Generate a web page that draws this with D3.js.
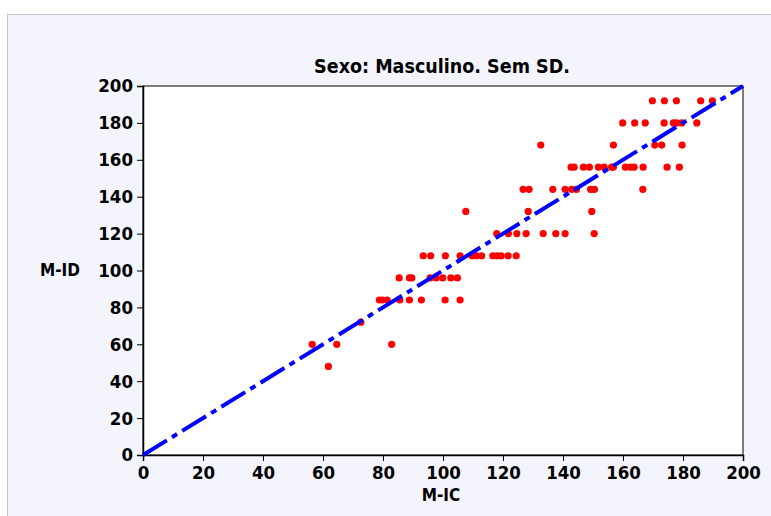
<!DOCTYPE html>
<html>
<head>
<meta charset="utf-8">
<script src="https://cdn.jsdelivr.net/npm/d3@7"></script>
<style>
  body { margin: 0; background: #fff; }
  text { font-family: "DejaVu Sans Condensed", "DejaVu Sans", sans-serif; font-stretch: condensed; font-weight: bold; fill: #000; }
</style>
</head>
<body>
<div id="chart"></div>
<script>
// M-ID levels (y) and the M-IC values (x) read for each level
const mIDLevels = [48, 60, 72, 84, 96, 108, 120, 132, 144, 156, 168, 180, 192];
const mICByLevel = [
  [61.8],
  [56.4, 64.6, 82.9],
  [72.6],
  [78.8, 79.8, 81.4, 85.6, 88.8, 92.8, 100.7, 105.7],
  [85.4, 88.8, 89.6, 95.7, 97.7, 99.9, 102.6, 104.8],
  [93.4, 95.9, 100.8, 105.7, 109.7, 111.2, 112.9, 116.6, 118.1, 119.4, 121.7, 124.4],
  [117.9, 121.8, 124.6, 127.7, 133.4, 137.6, 140.7, 150.4],
  [107.6, 128.4, 149.6],
  [126.7, 128.7, 136.6, 140.7, 142.9, 144.5, 149.2, 150.5, 166.6],
  [142.7, 143.7, 146.8, 148.8, 151.8, 153.7, 156.2, 156.8, 160.8, 162.5, 163.7, 166.7, 174.7, 178.8],
  [132.6, 156.8, 170.6, 172.9, 179.7],
  [159.9, 163.9, 167.4, 173.7, 176.8, 177.9, 179.6, 184.6],
  [169.8, 173.8, 177.8, 185.9, 189.8]
];
const tickValues = [0, 20, 40, 60, 80, 100, 120, 140, 160, 180, 200];
const refLine = [[0, 0], [200, 200]];

let points = [];
mIDLevels.forEach((lvl, i) => {
  mICByLevel[i].forEach(v => points.push({ x: v, y: lvl }));
});

const width = 771, height = 516;
const margin = { left: 143, right: 28, top: 86, bottom: 61 };

let svg = d3.select("#chart").append("svg")
  .attr("width", width)
  .attr("height", height);

// lavender panel
svg.append("rect")
  .attr("x", 7.5).attr("y", 14.5)
  .attr("width", width).attr("height", height)
  .attr("fill", "#f4f4fc")
  .attr("stroke", "#c6c6ce");

let x = d3.scaleLinear().domain([0, 200]).range([margin.left, width - margin.right]);
let y = d3.scaleLinear().domain([0, 200]).range([height - margin.bottom, margin.top]);

// white plot area with frame
svg.append("rect")
  .attr("x", x(0)).attr("y", y(200))
  .attr("width", x(200) - x(0)).attr("height", y(0) - y(200))
  .attr("fill", "#fff")
  .attr("stroke", "#000")
  .attr("stroke-width", 1);

let xAxis = svg.append("g")
  .attr("transform", `translate(0,${y(0)})`)
  .call(d3.axisBottom(x).tickValues(tickValues).tickSize(6).tickPadding(5));
let yAxis = svg.append("g")
  .attr("transform", `translate(${x(0)},0)`)
  .call(d3.axisLeft(y).tickValues(tickValues).tickSize(6).tickPadding(4));

[xAxis, yAxis].forEach(g => {
  g.select(".domain").attr("stroke", "#000").attr("stroke-width", 1.5);
  g.selectAll(".tick line").attr("stroke", "#000");
  g.selectAll(".tick text").style("font-size", "18.5px").attr("fill", "#000");
});

// points
svg.append("g")
  .selectAll("circle")
  .data(points)
  .enter()
  .append("circle")
  .attr("cx", d => x(d.x))
  .attr("cy", d => y(d.y))
  .attr("r", 3.6)
  .attr("fill", "#ff0000");

// identity line, dash-dot
svg.append("path")
  .datum(refLine)
  .attr("d", d3.line().x(d => x(d[0])).y(d => y(d[1])))
  .attr("stroke", "#0000ff")
  .attr("stroke-width", 4)
  .attr("stroke-dasharray", "28,6,6,6")
  .attr("fill", "none");

// title and axis labels
svg.append("text")
  .attr("x", 442).attr("y", 73)
  .attr("text-anchor", "middle")
  .style("font-size", "19.5px")
  .text("Sexo: Masculino. Sem SD.");

svg.append("text")
  .attr("x", 441).attr("y", 501)
  .attr("text-anchor", "middle")
  .style("font-size", "17px")
  .text("M-IC");

svg.append("text")
  .attr("x", 80).attr("y", 276)
  .attr("text-anchor", "end")
  .style("font-size", "17px")
  .text("M-ID");
</script>
</body>
</html>
